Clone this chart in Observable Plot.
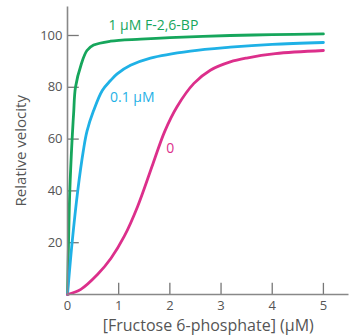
<!DOCTYPE html>
<html><head><meta charset="utf-8">
<script src="https://cdn.jsdelivr.net/npm/d3@7"></script>
<script src="https://cdn.jsdelivr.net/npm/@observablehq/plot@0.6"></script>
<style>body{margin:0;background:#fff;} svg{display:block;}</style>
</head><body><div id="chart"></div>
<script>
const greenX = [0, 0.02, 0.045, 0.09, 0.12, 0.156, 0.27, 0.38, 0.51, 0.84, 1.43, 2, 3.18, 4, 5];
const greenY = [0, 20, 40, 60, 70, 80, 89, 94.2, 96.3, 97.8, 98.6, 99.2, 100, 100.3, 100.6];
const blueX = [0, 0.09, 0.2, 0.31, 0.38, 0.51, 0.68, 0.84, 0.97, 1.23, 1.62, 2.4, 3.18, 4, 5];
const blueY = [0, 20, 40, 55.6, 63, 71, 78.8, 82.6, 85.2, 88.5, 91.3, 94, 95.5, 96.6, 97.3];
const magX = [0, 0.26, 0.59, 0.85, 1.11, 1.37, 1.67, 1.9, 2.14, 2.47, 2.79, 3.18, 3.5, 4.06, 5];
const magY = [0, 2, 7.8, 14, 22.5, 34, 50.5, 63, 72.5, 81.5, 86.6, 89.8, 91.3, 93, 94.2];
const seriesNames = ["1 \u03bcM F-2,6-BP", "0.1 \u03bcM", "0"];
const seriesColors = ["#16a65c", "#1fb1e6", "#dc2f8b"];
const xTicks = [0, 1, 2, 3, 4, 5];
const yTicks = [20, 40, 60, 80, 100];
const labelX = [0.8, 0.83, 1.93];
const labelY = [104, 76, 56.5];

const rows = [];
[[greenX, greenY], [blueX, blueY], [magX, magY]].forEach(([xs, ys], i) => {
  xs.forEach((x, j) => rows.push({x, y: ys[j], s: seriesNames[i]}));
});
const labels = seriesNames.map((s, i) => ({s, x: labelX[i], y: labelY[i]}));
const color = d3.scaleOrdinal(seriesNames, seriesColors);
const font = "'Open Sans', sans-serif";

const plot = Plot.plot({
  width: 350, height: 336,
  marginLeft: 67, marginRight: 1.5, marginTop: 6.5, marginBottom: 42,
  x: {domain: [0, 5.5]},
  y: {domain: [0, 111]},
  style: {fontFamily: font, fontSize: "13px", color: "#555", background: "#fff"},
  marks: [
    Plot.ruleY(yTicks, {x1: 0, x2: 0.23, stroke: "#777", strokeWidth: 1.3}),
    Plot.ruleX(xTicks.filter(d => d > 0), {y1: 0, y2: 4.3, stroke: "#777", strokeWidth: 1.3}),
    Plot.axisY(yTicks, {tickSize: 0, tickPadding: 5, fontSize: 13, label: null}),
    Plot.axisY({label: "Relative velocity", ticks: [], tickSize: 0, labelAnchor: "center", labelArrow: "none", labelOffset: 52, fontSize: 15}),
    Plot.axisX(xTicks, {tickSize: 0, tickPadding: 6, fontSize: 13, label: null}),
    Plot.axisX({label: "[Fructose 6-phosphate] (\u03bcM)", ticks: [], tickSize: 0, labelAnchor: "center", labelArrow: "none", labelOffset: 36, fontSize: 16}),
    Plot.line(rows, {x: "x", y: "y", z: "s", stroke: d => color(d.s), strokeWidth: 2.8, curve: "catmull-rom"}),
    Plot.ruleX([0], {stroke: "#888", strokeWidth: 1.6}),
    Plot.ruleY([0], {stroke: "#888", strokeWidth: 1.6}),
    Plot.text(labels, {x: "x", y: "y", text: "s", fill: d => color(d.s), textAnchor: "start", fontSize: 14, fontFamily: font})
  ]
});
document.getElementById("chart").appendChild(plot);
</script></body></html>
